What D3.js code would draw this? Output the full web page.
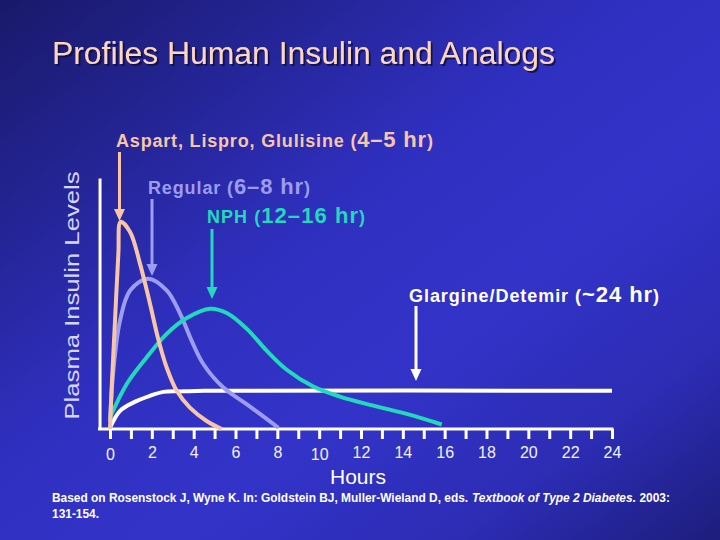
<!DOCTYPE html>
<html>
<head>
<meta charset="utf-8">
<script src="https://cdn.jsdelivr.net/npm/d3@7"></script>
<style>
  html, body { margin: 0; padding: 0; background: #2a2ab0; }
  svg { display: block; }
  text { font-family: "Liberation Sans", Arial, sans-serif; }
</style>
</head>
<body>
<svg id="chart" width="720" height="540"></svg>
<script>
// ---------------- DATA ----------------
const titleText = "Profiles Human Insulin and Analogs";
const yAxisTitle = "Plasma Insulin Levels";
const xAxisTitle = "Hours";
const hourTicks = [0,1,2,3,4,5,6,7,8,9,10,11,12,13,14,15,16,17,18,19,20,21,22,23,24];
const hourTickLabels = ["0","","2","","4","","6","","8","","10","","12","","14","","16","","18","","20","","22","","24"];

const aspartHours  = [0, 0.08, 0.24, 0.40, 0.51, 0.96, 1.43, 1.91, 2.29, 2.71, 3.19, 3.82, 4.62, 5.34];
const aspartLevels = [0, 16.5, 43.2, 69.9, 82.5, 78.5, 66.0, 50.0, 36.4, 24.5, 15.2, 8.5, 3.2, 0];

const regularHours  = [0, 0.16, 0.48, 0.96, 1.83, 2.71, 3.35, 3.90, 4.46, 5.42, 6.53, 8.05];
const regularLevels = [3, 23.2, 43.2, 55.2, 59.9, 55.2, 46.0, 35.2, 25.9, 16.5, 9.9, 0.5];

const nphHours  = [0, 0.80, 1.75, 2.71, 3.67, 4.78, 5.58, 6.53, 7.49, 8.45, 9.72, 10.99, 12.59, 14.18, 15.86];
const nphLevels = [4.5, 17.9, 28.5, 37.9, 44.2, 47.9, 46.2, 40.0, 31.2, 23.6, 16.9, 12.9, 9.3, 6.0, 1.8];

const glargineHours  = [0, 0.48, 1.11, 1.91, 2.55, 3.5, 4.5, 24];
const glargineLevels = [0.5, 7.2, 10.5, 13.2, 14.8, 15.0, 15.2, 15.2];

const labelNames = ["Aspart, Lispro, Glulisine (", "Regular (", "NPH (", "Glargine/Detemir ("];
const labelDurations = ["4\u20135 hr", "6\u20138 hr", "12\u201316 hr", "~24 hr"];
const labelClose = ")";

const citeLine1 = ["Based on Rosenstock J, Wyne K. In: Goldstein BJ, Muller-Wieland D, eds.\u00a0", "Textbook of Type 2 Diabetes.", "\u00a02003:"];
const citeItalic = [false, true, false];
const citeLine2 = "131-154.";

// ---------------- LAYOUT / STYLE ----------------
const W = 720, H = 540;
const seriesColors = ["#f8c6a6", "#9d9df0", "#22d9bb", "#ffffff"];
const labelLayout = [
  {x: 116, y: 147, w: 317, ax: 119.5, ay1: 152, ay2: 221},
  {x: 148, y: 194, w: 162, ax: 152,   ay1: 199, ay2: 276},
  {x: 207, y: 223, w: 158, ax: 212,   ay1: 229, ay2: 299},
  {x: 409, y: 302, w: 250, ax: 416,   ay1: 306, ay2: 381}
];

const svg = d3.select("#chart");
const defs = svg.append("defs");

// background gradient
const bg = defs.append("linearGradient").attr("id", "bg")
  .attr("x1", "0%").attr("y1", "0%").attr("x2", "100%").attr("y2", "100%");
[[0, "#19196a"], [0.42, "#2f2fbf"], [0.62, "#3333c9"], [0.82, "#2c2cb4"], [1, "#1d1d7c"]]
  .forEach(([o, c]) => bg.append("stop").attr("offset", o).attr("stop-color", c));

const shadow = defs.append("filter").attr("id", "shadow")
  .attr("x", "-5%").attr("y", "-20%").attr("width", "110%").attr("height", "140%");
shadow.append("feDropShadow").attr("dx", 2).attr("dy", 2).attr("stdDeviation", 0.6)
  .attr("flood-color", "#0a0a40").attr("flood-opacity", 0.85);

svg.append("rect").attr("width", W).attr("height", H).attr("fill", "url(#bg)");

// title
svg.append("text")
  .attr("x", 52).attr("y", 64)
  .attr("font-size", 31)
  .attr("textLength", 503).attr("lengthAdjust", "spacingAndGlyphs")
  .attr("fill", "#fdd6bf")
  .attr("filter", "url(#shadow)")
  .text(titleText);

// scales
const x = d3.scaleLinear().domain([0, 24]).range([110, 612]);
const y = d3.scaleLinear().domain([0, 100]).range([429, 178]);

// y axis (no ticks)
const yAxisX = x(-0.5);
const gy = svg.append("g").attr("transform", `translate(${yAxisX},0)`)
  .call(d3.axisLeft(y).tickValues([]).tickSizeOuter(0));
gy.select(".domain").attr("stroke", "#ffffff").attr("stroke-width", 3);

// x axis
const gx = svg.append("g").attr("transform", `translate(0,${y(0)})`)
  .call(d3.axisBottom(x).tickValues(hourTicks).tickSize(10).tickSizeOuter(0)
    .tickFormat((d, i) => hourTickLabels[i]));
gx.select(".domain").remove();
gx.selectAll(".tick line").attr("stroke", "#ffffff").attr("stroke-width", 3);
gx.selectAll(".tick text")
  .attr("fill", "#f2f2ff")
  .attr("font-size", 16)
  .attr("font-family", "'Liberation Sans', Arial, sans-serif")
  .attr("y", 16)
  .attr("dy", (d) => (d === 0 || d === 10) ? "0.95em" : "0.83em");
svg.append("line")
  .attr("x1", yAxisX - 1.5).attr("x2", x(24) + 1.5)
  .attr("y1", y(0)).attr("y2", y(0))
  .attr("stroke", "#ffffff").attr("stroke-width", 3);

// axis titles
svg.append("text")
  .attr("transform", `translate(79,${(y(0) + y(100)) / 2 - 8}) rotate(-90)`)
  .attr("text-anchor", "middle")
  .attr("font-size", 20.5)
  .attr("textLength", 248).attr("lengthAdjust", "spacingAndGlyphs")
  .attr("fill", "#d6d6ff")
  .text(yAxisTitle);

svg.append("text")
  .attr("x", 358).attr("y", 484)
  .attr("text-anchor", "middle")
  .attr("font-size", 21)
  .attr("fill", "#ffffff")
  .text(xAxisTitle);

// curves
const series = [
  d3.zip(glargineHours, glargineLevels),
  d3.zip(aspartHours, aspartLevels),
  d3.zip(regularHours, regularLevels),
  d3.zip(nphHours, nphLevels)
];
const seriesColorIdx = [3, 0, 1, 2];
const line = d3.line().x(d => x(d[0])).y(d => y(d[1])).curve(d3.curveCatmullRom.alpha(0.5));

// draw order: glargine, regular, nph, aspart
[0, 2, 3, 1].forEach(i => {
  svg.append("path")
    .datum(series[i])
    .attr("d", line)
    .attr("fill", "none")
    .attr("stroke", seriesColors[seriesColorIdx[i]])
    .attr("stroke-width", 4)
    .attr("stroke-linejoin", "round")
    .attr("stroke-linecap", "butt");
});

// labels & arrows
labelNames.forEach((name, i) => {
  const L = labelLayout[i];
  const c = seriesColors[i];
  const t = svg.append("text")
    .attr("x", L.x).attr("y", L.y)
    .attr("font-weight", "bold")
    .attr("font-size", 18)
    .attr("fill", c)
    .attr("textLength", L.w).attr("lengthAdjust", "spacing");
  t.append("tspan").text(name);
  t.append("tspan").attr("font-size", 22).text(labelDurations[i]);
  t.append("tspan").text(labelClose);

  const headLen = 12, headHalf = 5.5;
  svg.append("line")
    .attr("x1", L.ax).attr("x2", L.ax)
    .attr("y1", L.ay1).attr("y2", L.ay2 - headLen + 1)
    .attr("stroke", c).attr("stroke-width", 3);
  svg.append("path")
    .attr("d", `M${L.ax - headHalf},${L.ay2 - headLen} L${L.ax + headHalf},${L.ay2 - headLen} L${L.ax},${L.ay2} Z`)
    .attr("fill", c);
});

// citation: pieces placed side by side, then the group is fitted to the reference width
const citeG = svg.append("g");
let cx = 0;
citeLine1.forEach((s, i) => {
  const t = citeG.append("text")
    .attr("x", cx).attr("y", 502)
    .attr("font-size", 12.5).attr("font-weight", "bold")
    .attr("font-style", citeItalic[i] ? "italic" : "normal")
    .attr("fill", "#ffffff")
    .text(s);
  cx += t.node().getComputedTextLength();
});
citeG.append("text")
  .attr("x", 0).attr("y", 518)
  .attr("font-size", 12.5).attr("font-weight", "bold")
  .attr("fill", "#ffffff")
  .text(citeLine2);
const citeScale = 618 / cx;
citeG.attr("transform", `translate(52,0) scale(${citeScale},1)`);
</script>
</body>
</html>
